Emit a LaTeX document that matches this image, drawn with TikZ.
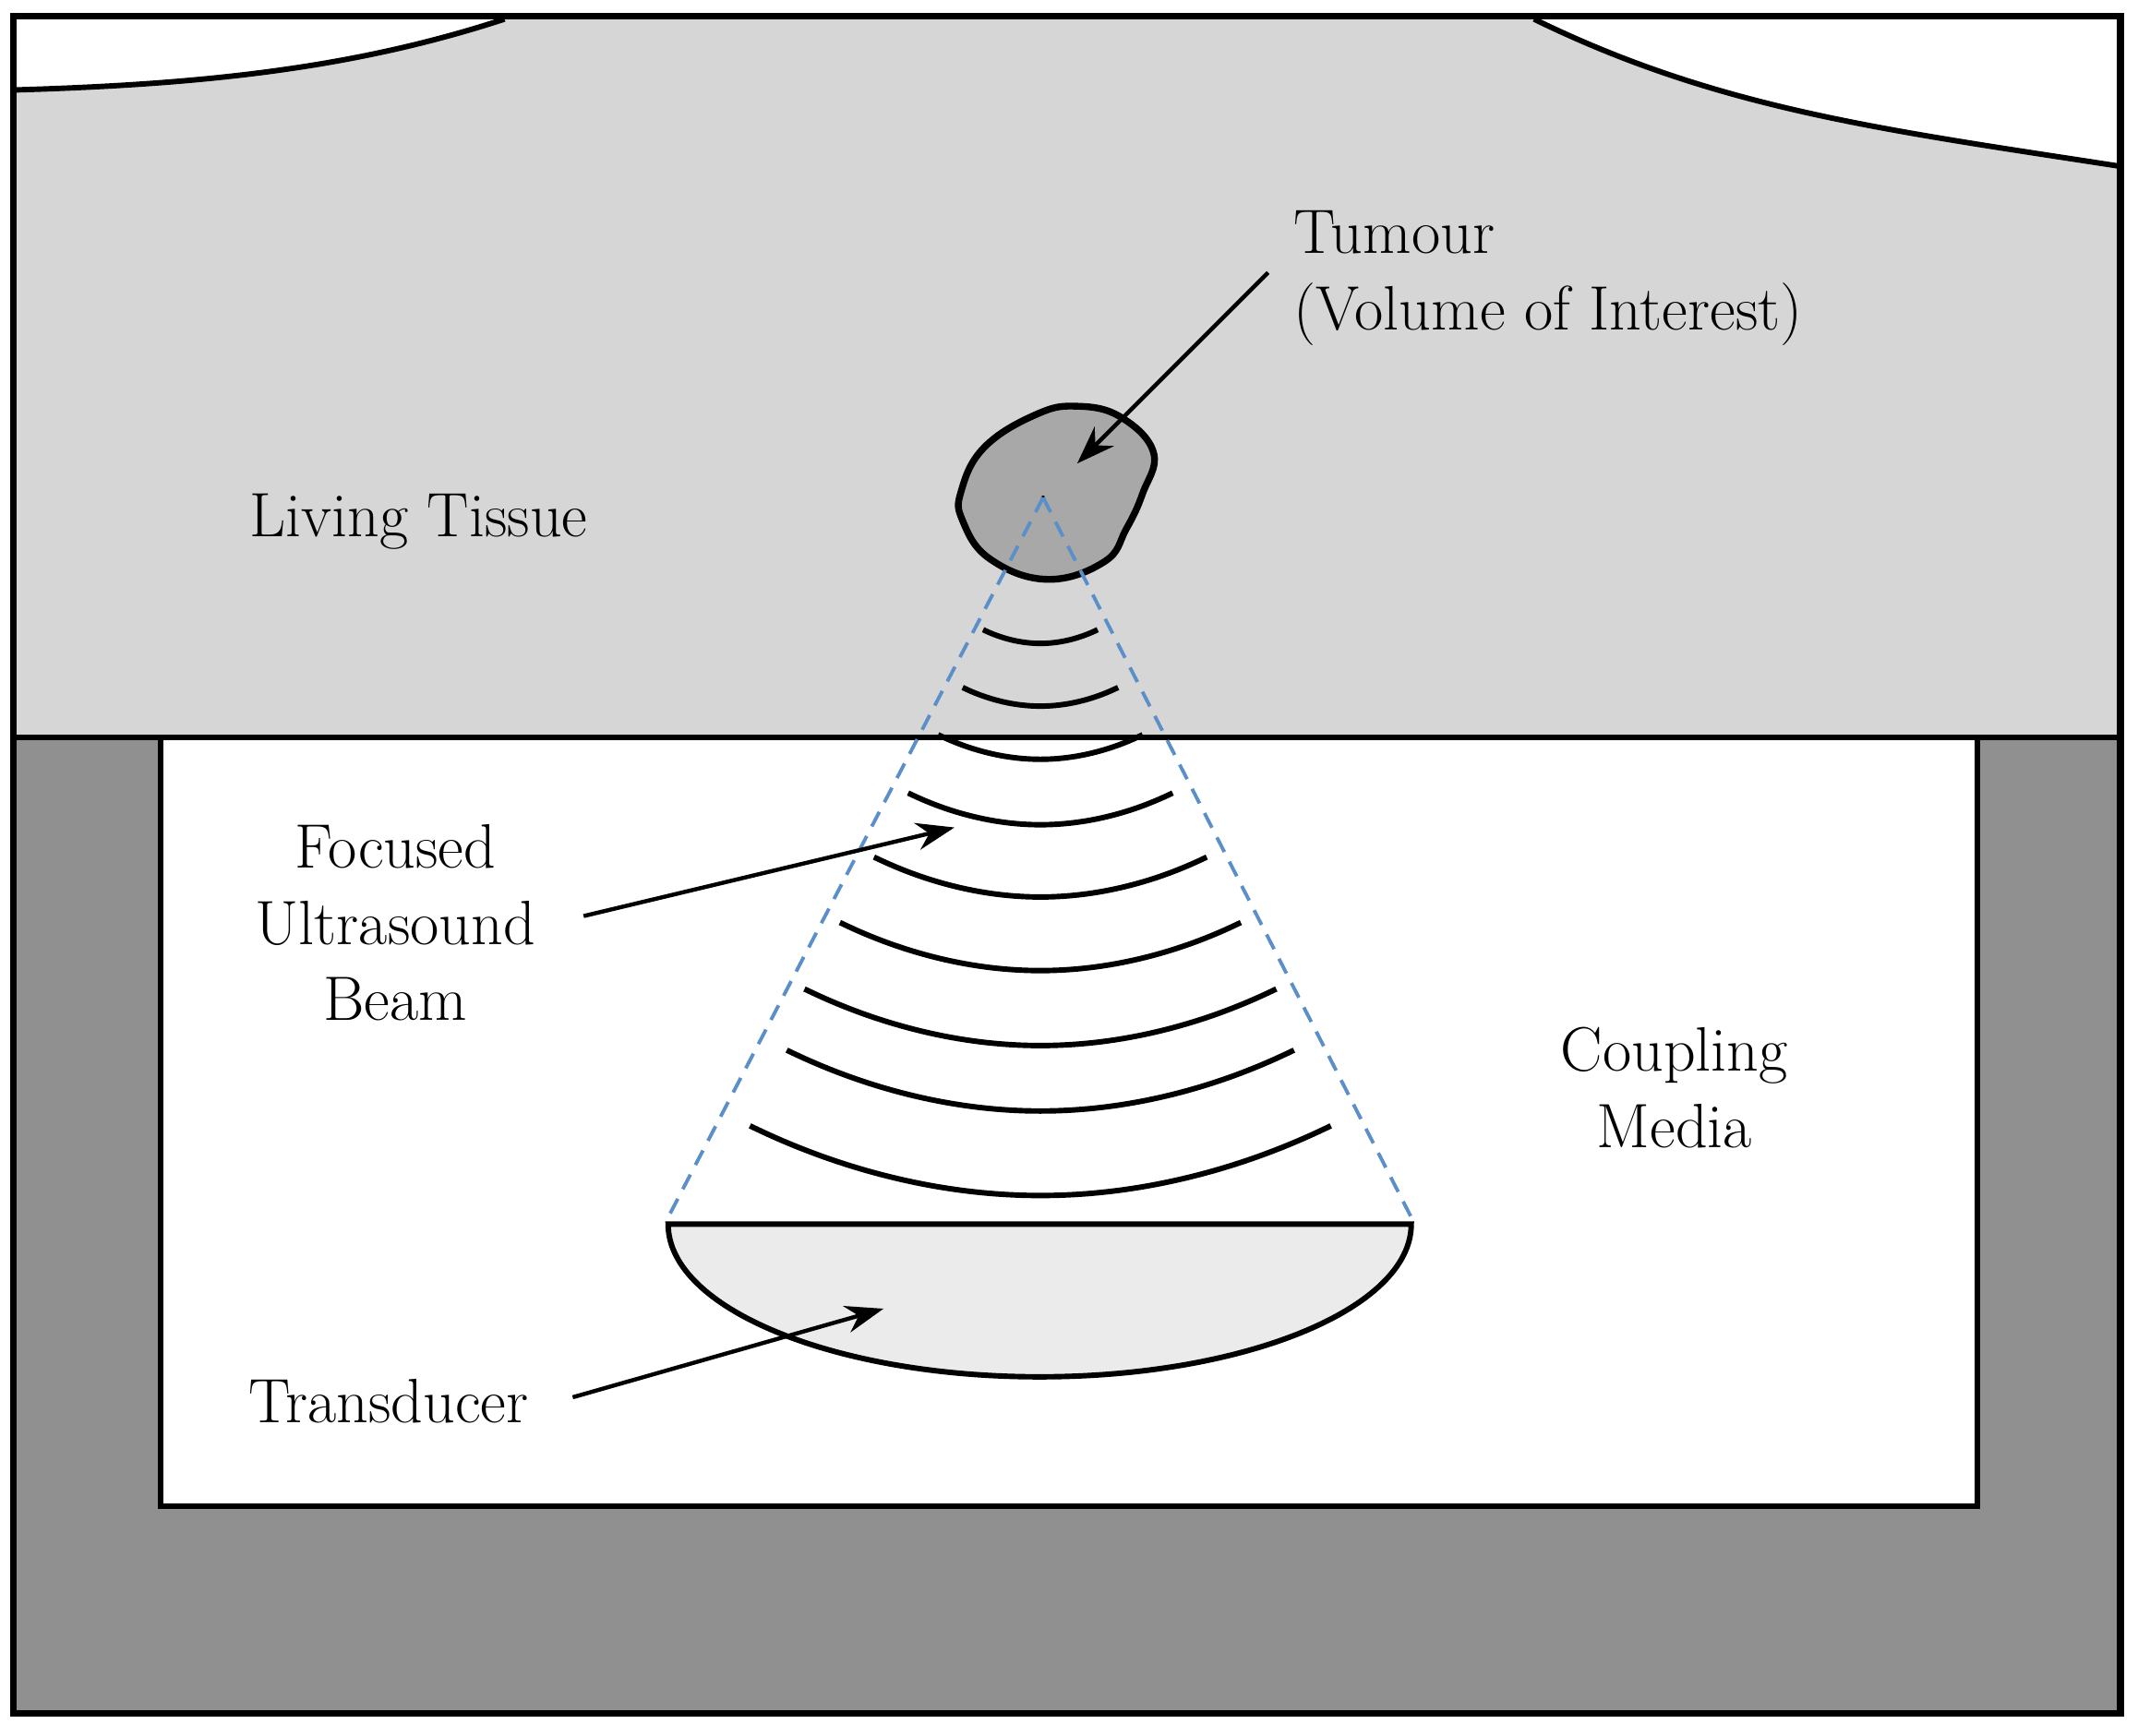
\documentclass[tikz,border=0pt]{standalone}
\usetikzlibrary{arrows.meta}
\begin{document}
\begin{tikzpicture}[x=0.5pt,y=-0.5pt,
  lbl/.style={font=\fontsize{23}{28}\selectfont,align=center},
  wave/.style={line width=2pt},
  pointer/.style={line width=1.5pt,-{Stealth[length=14pt,width=10pt]}},
  beamedge/.style={dash pattern=on 6pt off 4pt,line width=1.3pt,draw=beamblue}]
\definecolor{tissue}{HTML}{D6D6D6}
\definecolor{base}{HTML}{909090}
\definecolor{tum}{HTML}{A8A8A8}
\definecolor{trans}{HTML}{EBEBEB}
\definecolor{beamblue}{HTML}{5B8FC9}
\useasboundingbox (0,0) rectangle (1568,1273);
% background layers
\fill[base] (10,12) rectangle (1555,1257);
\fill[tissue] (10,12) rectangle (1555,541);
\fill[white] (10,12) -- (370,14) .. controls (260,50) and (150,62) .. (10,66) -- cycle;
\draw[line width=2pt] (370,14) .. controls (260,50) and (150,62) .. (10,66);
\fill[white] (1125,12) .. controls (1260,80) and (1380,95) .. (1555,122) -- (1555,12) -- cycle;
\draw[line width=2pt] (1125,14) .. controls (1260,80) and (1380,95) .. (1555,122);
\draw[line width=2pt] (10,541) -- (1555,541);
\draw[line width=2pt,fill=white] (118,541) rectangle (1450,1105);
\draw[line width=2.5pt] (10,12) rectangle (1555,1257);
% tumour
\draw[line width=2.5pt,fill=tum] plot[smooth cycle,tension=0.7] coordinates {(705,360) (722,328) (760,304) (790,298) (822,306) (846,332) (838,362) (826,388) (810,412) (768,425) (726,410) (706,382)};
\coordinate (focus) at (765,365);
\fill (focus) circle (1.5);
% beam edges
\coordinate (tl) at (490,893);
\coordinate (tr) at (1035,893);
\draw[beamedge] (focus) -- (tl);
\draw[beamedge] (focus) -- (tr);
% waves
\foreach \yb/\hw in {472/42,518/57,557/75,605/97,658/122,712/147,767/173,815/186,877/213}{
  \draw[wave] (763-\hw,\yb-0.24*\hw) parabola bend (763,\yb) (763+\hw,\yb-0.24*\hw);
}
% transducer
\draw[line width=2pt,fill=trans] (490,898) -- (1035,898) arc[start angle=0,end angle=180,x radius=272.5,y radius=112] -- cycle;
% labels
\node[lbl,align=left,anchor=west] (tum) at (942,204) {Tumour\\(Volume of Interest)};
\node[lbl] (tissue) at (307,383) {Living Tissue};
\node[lbl] (beam) at (290,677) {Focused\\Ultrasound\\Beam};
\node[lbl] (coupling) at (1228,798) {Coupling\\Media};
\node[lbl] (transducer) at (285,1028) {Transducer};
\coordinate (a1) at (930,200); \coordinate (a1e) at (790,340);
\coordinate (a2) at (428,672); \coordinate (a2e) at (700,607);
\coordinate (a3) at (420,1025); \coordinate (a3e) at (648,960);
\draw[pointer] (a1) -- (a1e);
\draw[pointer] (a2) -- (a2e);
\draw[pointer] (a3) -- (a3e);
\end{tikzpicture}
\end{document}
